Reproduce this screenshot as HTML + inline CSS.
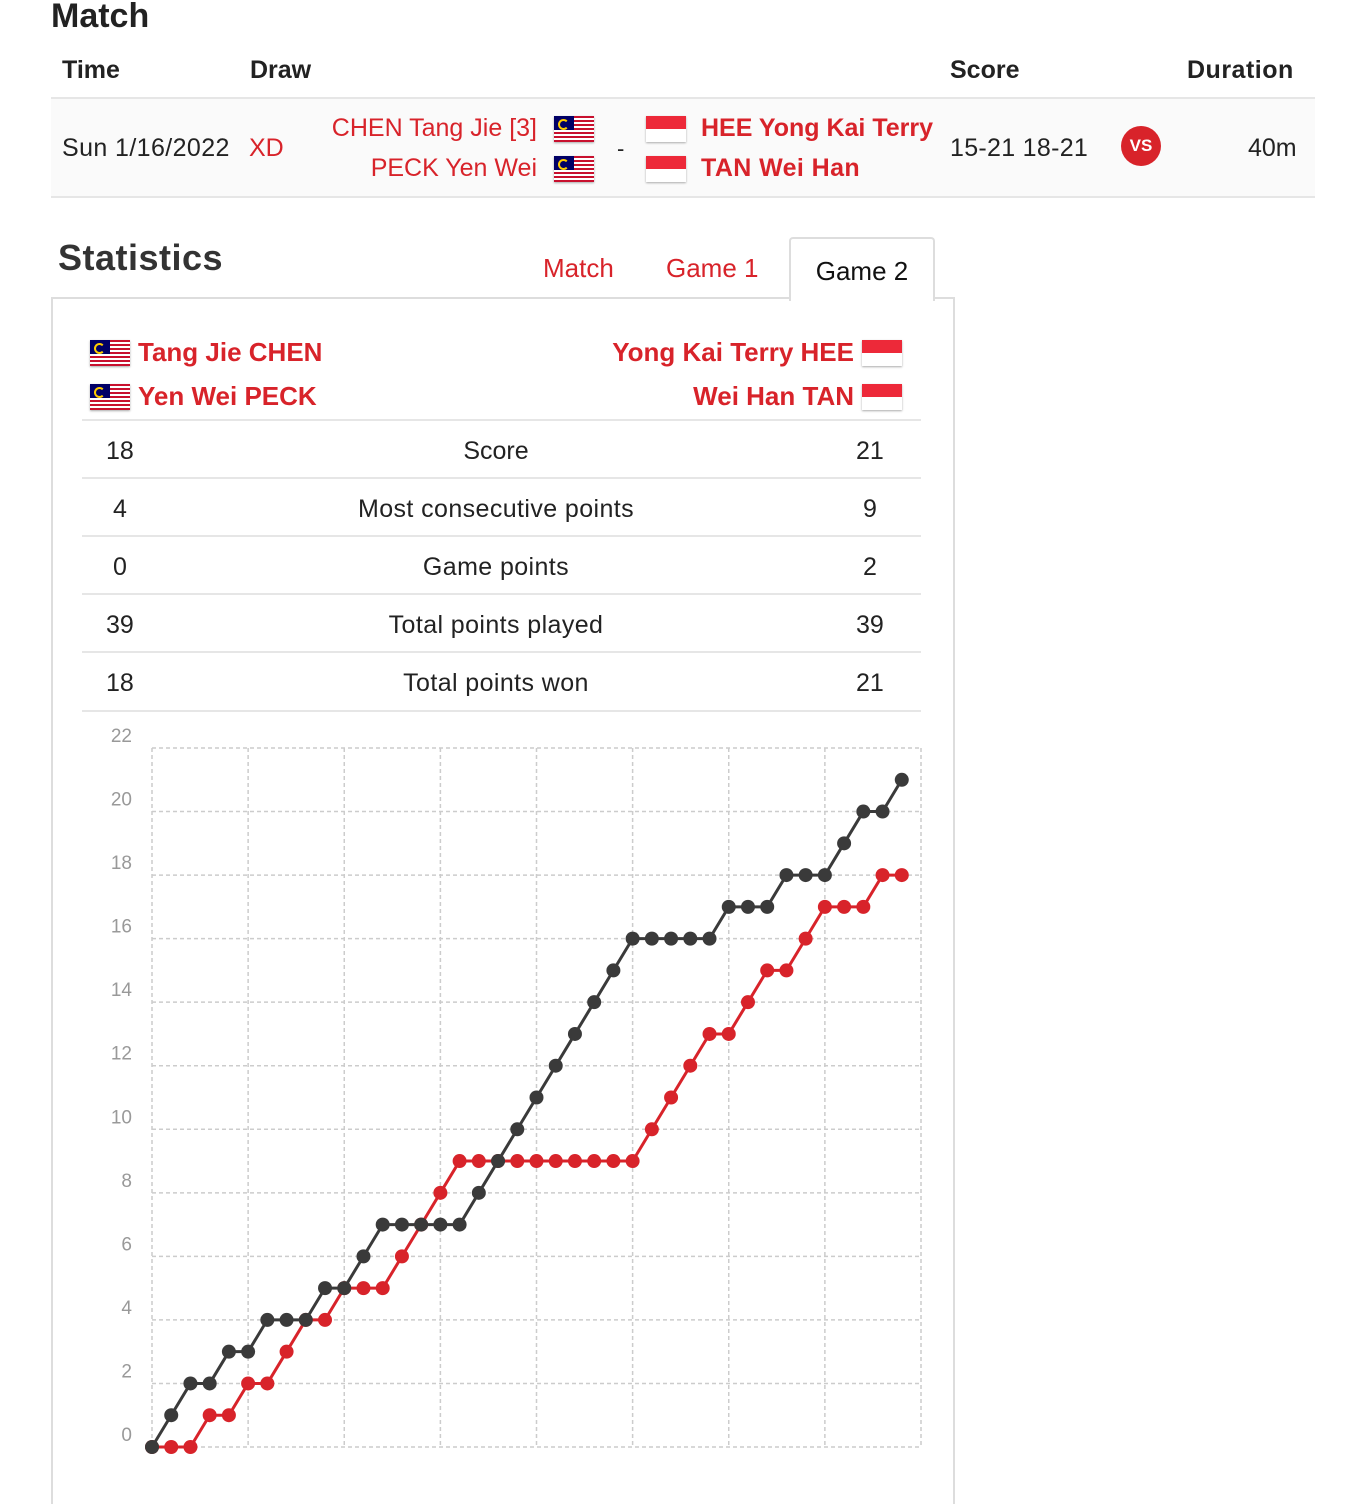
<!DOCTYPE html>
<html><head><meta charset="utf-8">
<style>
html{overflow:hidden;height:1504px}
body{margin:0;width:1362px;height:1504px;overflow:hidden;background:#fff;font-family:"Liberation Sans",sans-serif;color:#222;position:relative}
.a{position:absolute;white-space:nowrap}
.red{color:#d8232a}
.b{font-weight:bold}
.my{position:absolute;width:40px;height:26px;background:repeating-linear-gradient(#c8102e 0 2px,#fff 2px 4px);box-shadow:0 1px 2px #aaa}
.my::before{content:"";position:absolute;left:0;top:0;width:20px;height:14px;background:#010066}
.my::after{content:"";position:absolute;left:4px;top:3px;width:7px;height:7px;border-radius:50%;border:2px solid #fc0;border-right-color:transparent}
.sg{position:absolute;width:40px;height:26px;background:linear-gradient(#ed2939 50%,#fff 50%);box-shadow:0 1px 2px #aaa}
.row{position:absolute;left:82px;width:839px;height:57px;border-top:2px solid #e6e6e6;font-size:25px}
.row span{position:absolute;top:16px}
</style></head><body>
<div class="a b" style="left:51px;top:-3px;font-size:34px">Match</div>
<div class="a b" style="left:62px;top:56px;font-size:25px">Time</div>
<div class="a b" style="left:250px;top:56px;font-size:25px">Draw</div>
<div class="a b" style="left:950px;top:56px;font-size:25px">Score</div>
<div class="a b" style="left:1187px;top:56px;font-size:25px;letter-spacing:0.5px">Duration</div>
<div class="a" style="left:51px;top:97px;width:1264px;height:97px;background:#fafafa;border-top:2px solid #e6e6e6;border-bottom:2px solid #e6e6e6"></div>
<div class="a" style="left:62px;top:134px;font-size:25px;letter-spacing:0.4px">Sun 1/16/2022</div>
<div class="a red" style="left:249px;top:134px;font-size:25px">XD</div>
<div class="a red" style="right:825px;top:114px;font-size:25px">CHEN Tang Jie [3]</div>
<div class="a red" style="right:825px;top:154px;font-size:25px">PECK Yen Wei</div>
<div class="my" style="left:554px;top:116px"></div>
<div class="my" style="left:554px;top:156px"></div>
<div class="a" style="left:617px;top:136px;font-size:22px">-</div>
<div class="sg" style="left:646px;top:116px"></div>
<div class="sg" style="left:646px;top:156px"></div>
<div class="a red b" style="left:701px;top:114px;font-size:25px">HEE Yong Kai Terry</div>
<div class="a red b" style="left:701px;top:154px;font-size:25px;letter-spacing:0.4px">TAN Wei Han</div>
<div class="a" style="left:950px;top:134px;font-size:25px;letter-spacing:0.3px">15-21 18-21</div>
<div class="a b" style="left:1121px;top:126px;width:40px;height:40px;border-radius:50%;background:#d8232a;color:#fff;font-size:17px;text-align:center;line-height:40px">VS</div>
<div class="a" style="left:1248px;top:134px;font-size:25px">40m</div>

<div class="a b" style="left:58px;top:237px;font-size:36px;color:#333;letter-spacing:0.5px">Statistics</div>
<div class="a red" style="left:543px;top:253px;font-size:26px">Match</div>
<div class="a red" style="left:666px;top:253px;font-size:26px">Game 1</div>
<div class="a" style="left:51px;top:297px;width:900px;height:1215px;border:2px solid #ddd"></div>
<div class="a" style="left:789px;top:237px;width:142px;height:62px;border:2px solid #ddd;border-bottom:none;border-radius:4px 4px 0 0;background:#fff;font-size:26px;text-align:center;line-height:64px;color:#111">Game 2</div>

<div class="my" style="left:90px;top:340px"></div>
<div class="my" style="left:90px;top:384px"></div>
<div class="a red b" style="left:138px;top:337px;font-size:26px">Tang Jie CHEN</div>
<div class="a red b" style="left:138px;top:381px;font-size:26px">Yen Wei PECK</div>
<div class="sg" style="left:862px;top:340px"></div>
<div class="sg" style="left:862px;top:384px"></div>
<div class="a red b" style="right:508px;top:337px;font-size:26px">Yong Kai Terry HEE</div>
<div class="a red b" style="right:508px;top:381px;font-size:26px">Wei Han TAN</div>

<div class="row" style="top:419px"><span style="left:24px">18</span><span style="left:0;width:828px;text-align:center">Score</span><span style="left:774px">21</span></div>
<div class="row" style="top:477px"><span style="left:31px">4</span><span style="left:0;width:828px;text-align:center;letter-spacing:0.4px">Most consecutive points</span><span style="left:781px">9</span></div>
<div class="row" style="top:535px"><span style="left:31px">0</span><span style="left:0;width:828px;text-align:center;letter-spacing:0.4px">Game points</span><span style="left:781px">2</span></div>
<div class="row" style="top:593px"><span style="left:24px">39</span><span style="left:0;width:828px;text-align:center;letter-spacing:0.4px">Total points played</span><span style="left:774px">39</span></div>
<div class="row" style="top:651px;border-bottom:2px solid #e6e6e6"><span style="left:24px">18</span><span style="left:0;width:828px;text-align:center;letter-spacing:0.4px">Total points won</span><span style="left:774px">21</span></div>

<svg id="chart" class="a" style="left:0;top:0" width="1362" height="1504"></svg>
<script>
const yTicks=[0,2,4,6,8,10,12,14,16,18,20,22];
const xTicks=[0,5,10,15,20,25,30,35,40];
const teamHee=[0,1,2,2,3,3,4,4,4,5,5,6,7,7,7,7,7,8,9,10,11,12,13,14,15,16,16,16,16,16,17,17,17,18,18,18,19,20,20,21];
const teamChen=[0,0,0,1,1,2,2,3,4,4,5,5,5,6,7,8,9,9,9,9,9,9,9,9,9,9,10,11,12,13,13,14,15,15,16,17,17,17,18,18];
const svg=document.getElementById('chart');
const NS='http://www.w3.org/2000/svg';
const X=i=>152+i*(769/40);
const Y=v=>1447-v*(699/22);
function mk(t,a){const e=document.createElementNS(NS,t);for(const k in a)e.setAttribute(k,a[k]);svg.appendChild(e);return e;}
yTicks.forEach(v=>{
  const l=mk('line',{x1:152,x2:921,y1:Y(v),y2:Y(v),stroke:'#ccc','stroke-width':1.5,'stroke-dasharray':'4 3'});
  
  
  const t=mk('text',{x:132,y:Y(v)-6,'text-anchor':'end','font-size':19,fill:'#999','font-family':'Liberation Sans, sans-serif'});
  t.textContent=v;
  
  
});
xTicks.forEach(v=>{
  const l=mk('line',{x1:X(v),x2:X(v),y1:Y(22),y2:Y(0),stroke:'#ccc','stroke-width':1.5,'stroke-dasharray':'4 3'});
  
  
});
function series(data,color,name){
  const p=mk('polyline',{points:data.map((v,i)=>X(i)+','+Y(v)).join(' '),fill:'none',stroke:color,'stroke-width':3});
  
  
  data.forEach((v,i)=>{
    const c=mk('circle',{cx:X(i),cy:Y(v),r:7,fill:color});
    
    
  });
}
series(teamChen,'#d8232a','chen-peck');
series(teamHee,'#3a3a3a','hee-tan');
</script>
</body></html>
